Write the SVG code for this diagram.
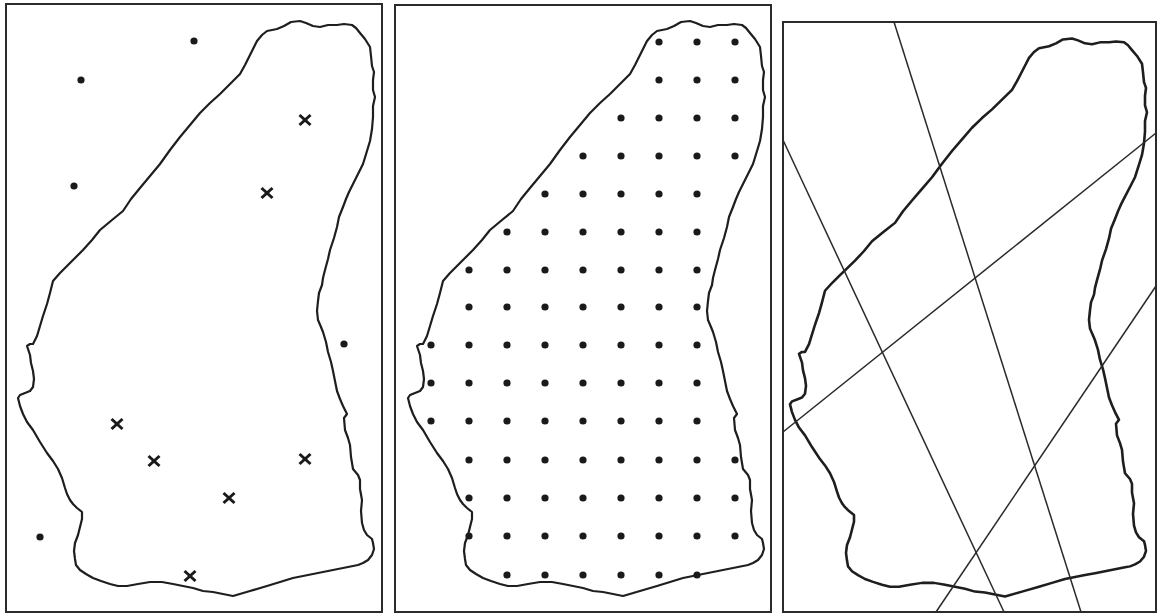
<svg xmlns="http://www.w3.org/2000/svg" width="1158" height="614" viewBox="0 0 1158 614">
<style>
.frame{fill:none;stroke:#2b2b2b;stroke-width:2}
.outline{fill:none;stroke:#1e1e1e;stroke-width:2.2;stroke-linejoin:round;stroke-linecap:round}
.dot{fill:#1a1a1a}
.cross{stroke:#1a1a1a;stroke-width:3;stroke-linecap:butt}
.tline{stroke:#2a2a2a;stroke-width:1.5}
</style>
<defs>
<path id="shape" d="M257,41 L262,35 L267,31 L272,30 L277,29 L284,26 L291,22 L300,21 L306,23 L313,26 L320,27 L328,25 L337,25 L344,24 L352,25 L356,28 L360,33 L365,39 L370,47 L371,56 L372,66 L374,72 L373,80 L373,90 L375,97 L373,106 L373,117 L372,129 L370,141 L367,151 L363,164 L358,174 L353,184 L349,192 L346,199 L343,207 L339,217 L337,227 L334,238 L330,250 L328,259 L325,270 L323,278 L322,285 L319,293 L318,301 L317,311 L318,320 L321,327 L323,332 L326,342 L328,352 L331,362 L333,371 L335,381 L337,391 L340,399 L343,406 L347,414 L344,418 L345,430 L348,438 L350,445 L351,457 L353,469 L358,475 L360,480 L360,489 L362,500 L361,511 L362,523 L364,530 L367,535 L372,539 L373,543 L374,549 L372,555 L368,560 L363,563 L358,565 L353,566 L343,568 L333,570 L323,572 L313,574 L303,576 L293,578 L280,582 L267,586 L250,591 L233,596 L223,594 L213,592 L203,591 L193,588 L183,586 L173,584 L162,582 L150,582 L138,584 L127,586 L118,586 L110,584 L101,581 L93,578 L86,574 L80,570 L76,565 L75,559 L74,551 L75,543 L78,535 L80,527 L82,519 L82,512 L77,508 L73,504 L70,500 L67,494 L65,488 L62,478 L58,469 L53,461 L47,453 L40,442 L33,430 L27,422 L23,414 L20,406 L18,398 L20,395 L25,393 L30,391 L33,387 L34,379 L33,371 L31,363 L30,355 L27,346 L30,344 L33,344 L37,336 L40,326 L43,316 L47,304 L50,293 L53,281 L60,273 L67,266 L75,258 L83,250 L92,240 L100,230 L112,220 L123,211 L131,199 L140,188 L150,176 L160,164 L170,150 L180,137 L190,125 L200,113 L210,103 L220,94 L230,84 L240,74 L245,65 L250,55 L254,47 Z"/>
<g id="x"><line class="cross" x1="-5.5" y1="-5" x2="5.5" y2="5"/><line class="cross" x1="-5.5" y1="5" x2="5.5" y2="-5"/></g>
</defs>

<g id="panel1">
<rect class="frame" x="6" y="4" width="376" height="608"/>
<use href="#shape" class="outline"/>
<g id="panel1-dots">
<circle class="dot" cx="194" cy="41" r="3.6"/>
<circle class="dot" cx="81" cy="80" r="3.6"/>
<circle class="dot" cx="74" cy="186" r="3.6"/>
<circle class="dot" cx="344" cy="344" r="3.6"/>
<circle class="dot" cx="40" cy="537" r="3.6"/>
</g>
<g id="panel1-crosses">
<use href="#x" x="305" y="120"/>
<use href="#x" x="267" y="193"/>
<use href="#x" x="117" y="424"/>
<use href="#x" x="154" y="461"/>
<use href="#x" x="305" y="459"/>
<use href="#x" x="229" y="498"/>
<use href="#x" x="190" y="576"/>
</g>
</g>

<g id="panel2">
<rect class="frame" x="395" y="5" width="376" height="607"/>
<use href="#shape" class="outline" transform="translate(390,0)"/>
<g id="panel2-grid">
<circle class="dot" cx="659" cy="42" r="3.6"/><circle class="dot" cx="697" cy="42" r="3.6"/><circle class="dot" cx="735" cy="42" r="3.6"/>
<circle class="dot" cx="659" cy="80" r="3.6"/><circle class="dot" cx="697" cy="80" r="3.6"/><circle class="dot" cx="735" cy="80" r="3.6"/>
<circle class="dot" cx="621" cy="118" r="3.6"/><circle class="dot" cx="659" cy="118" r="3.6"/><circle class="dot" cx="697" cy="118" r="3.6"/><circle class="dot" cx="735" cy="118" r="3.6"/>
<circle class="dot" cx="583" cy="156" r="3.6"/><circle class="dot" cx="621" cy="156" r="3.6"/><circle class="dot" cx="659" cy="156" r="3.6"/><circle class="dot" cx="697" cy="156" r="3.6"/><circle class="dot" cx="735" cy="156" r="3.6"/>
<circle class="dot" cx="545" cy="194" r="3.6"/><circle class="dot" cx="583" cy="194" r="3.6"/><circle class="dot" cx="621" cy="194" r="3.6"/><circle class="dot" cx="659" cy="194" r="3.6"/><circle class="dot" cx="697" cy="194" r="3.6"/>
<circle class="dot" cx="507" cy="232" r="3.6"/><circle class="dot" cx="545" cy="232" r="3.6"/><circle class="dot" cx="583" cy="232" r="3.6"/><circle class="dot" cx="621" cy="232" r="3.6"/><circle class="dot" cx="659" cy="232" r="3.6"/><circle class="dot" cx="697" cy="232" r="3.6"/>
<circle class="dot" cx="469" cy="270" r="3.6"/><circle class="dot" cx="507" cy="270" r="3.6"/><circle class="dot" cx="545" cy="270" r="3.6"/><circle class="dot" cx="583" cy="270" r="3.6"/><circle class="dot" cx="621" cy="270" r="3.6"/><circle class="dot" cx="659" cy="270" r="3.6"/><circle class="dot" cx="697" cy="270" r="3.6"/>
<circle class="dot" cx="469" cy="307" r="3.6"/><circle class="dot" cx="507" cy="307" r="3.6"/><circle class="dot" cx="545" cy="307" r="3.6"/><circle class="dot" cx="583" cy="307" r="3.6"/><circle class="dot" cx="621" cy="307" r="3.6"/><circle class="dot" cx="659" cy="307" r="3.6"/><circle class="dot" cx="697" cy="307" r="3.6"/>
<circle class="dot" cx="431" cy="345" r="3.6"/><circle class="dot" cx="469" cy="345" r="3.6"/><circle class="dot" cx="507" cy="345" r="3.6"/><circle class="dot" cx="545" cy="345" r="3.6"/><circle class="dot" cx="583" cy="345" r="3.6"/><circle class="dot" cx="621" cy="345" r="3.6"/><circle class="dot" cx="659" cy="345" r="3.6"/><circle class="dot" cx="697" cy="345" r="3.6"/>
<circle class="dot" cx="431" cy="383" r="3.6"/><circle class="dot" cx="469" cy="383" r="3.6"/><circle class="dot" cx="507" cy="383" r="3.6"/><circle class="dot" cx="545" cy="383" r="3.6"/><circle class="dot" cx="583" cy="383" r="3.6"/><circle class="dot" cx="621" cy="383" r="3.6"/><circle class="dot" cx="659" cy="383" r="3.6"/><circle class="dot" cx="697" cy="383" r="3.6"/>
<circle class="dot" cx="431" cy="421" r="3.6"/><circle class="dot" cx="469" cy="421" r="3.6"/><circle class="dot" cx="507" cy="421" r="3.6"/><circle class="dot" cx="545" cy="421" r="3.6"/><circle class="dot" cx="583" cy="421" r="3.6"/><circle class="dot" cx="621" cy="421" r="3.6"/><circle class="dot" cx="659" cy="421" r="3.6"/><circle class="dot" cx="697" cy="421" r="3.6"/>
<circle class="dot" cx="469" cy="460" r="3.6"/><circle class="dot" cx="507" cy="460" r="3.6"/><circle class="dot" cx="545" cy="460" r="3.6"/><circle class="dot" cx="583" cy="460" r="3.6"/><circle class="dot" cx="621" cy="460" r="3.6"/><circle class="dot" cx="659" cy="460" r="3.6"/><circle class="dot" cx="697" cy="460" r="3.6"/><circle class="dot" cx="735" cy="460" r="3.6"/>
<circle class="dot" cx="469" cy="498" r="3.6"/><circle class="dot" cx="507" cy="498" r="3.6"/><circle class="dot" cx="545" cy="498" r="3.6"/><circle class="dot" cx="583" cy="498" r="3.6"/><circle class="dot" cx="621" cy="498" r="3.6"/><circle class="dot" cx="659" cy="498" r="3.6"/><circle class="dot" cx="697" cy="498" r="3.6"/><circle class="dot" cx="735" cy="498" r="3.6"/>
<circle class="dot" cx="469" cy="536" r="3.6"/><circle class="dot" cx="507" cy="536" r="3.6"/><circle class="dot" cx="545" cy="536" r="3.6"/><circle class="dot" cx="583" cy="536" r="3.6"/><circle class="dot" cx="621" cy="536" r="3.6"/><circle class="dot" cx="659" cy="536" r="3.6"/><circle class="dot" cx="697" cy="536" r="3.6"/><circle class="dot" cx="735" cy="536" r="3.6"/>
<circle class="dot" cx="507" cy="575" r="3.6"/><circle class="dot" cx="545" cy="575" r="3.6"/><circle class="dot" cx="583" cy="575" r="3.6"/><circle class="dot" cx="621" cy="575" r="3.6"/><circle class="dot" cx="659" cy="575" r="3.6"/><circle class="dot" cx="697" cy="575" r="3.6"/>
</g>
</g>

<g id="panel3">
<rect class="frame" x="783" y="22" width="373" height="590"/>
<use href="#shape" class="outline" style="stroke-width:2.6" transform="translate(772,18.1) scale(1,0.9704)"/>
<g id="panel3-lines">
<line class="tline" x1="894" y1="22" x2="1081" y2="612"/>
<line class="tline" x1="783" y1="140" x2="1004" y2="612"/>
<line class="tline" x1="783" y1="432" x2="1156" y2="133"/>
<line class="tline" x1="936" y1="612" x2="1156" y2="286"/>
</g>
</g>
</svg>
